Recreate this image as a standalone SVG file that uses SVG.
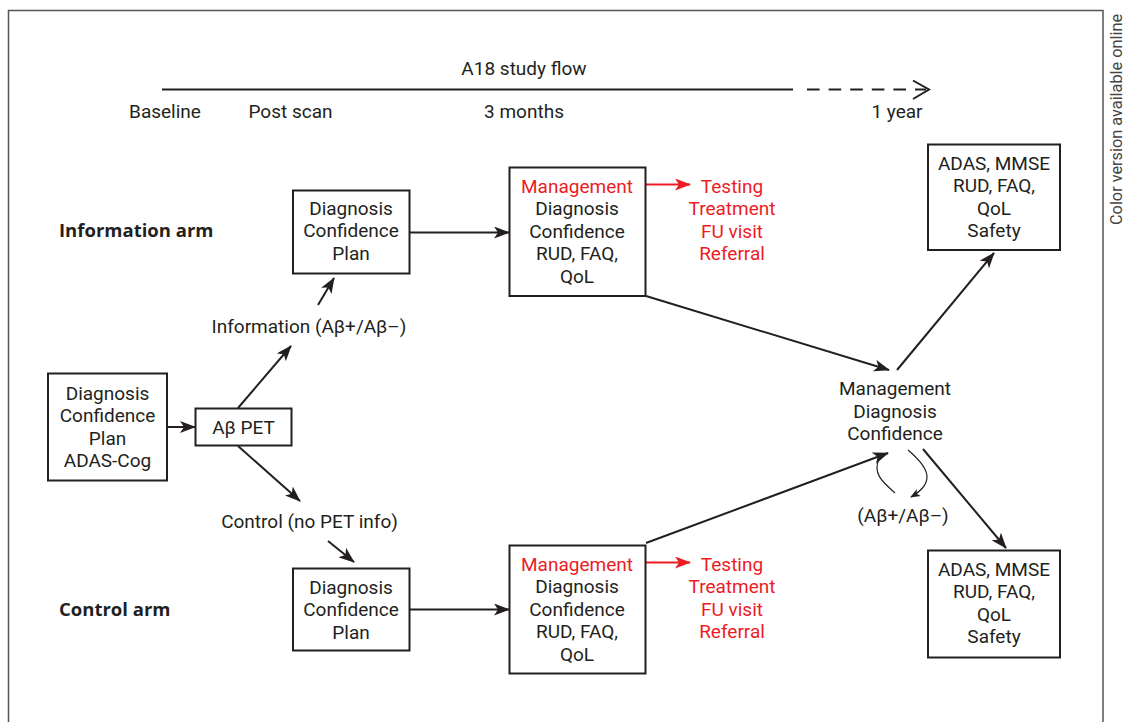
<svg xmlns="http://www.w3.org/2000/svg" width="1125" height="722" viewBox="0 0 1125 722">
<defs>
<style>
text{font-family:Roboto,"Open Sans","Liberation Sans",sans-serif;font-size:19px;fill:#231f20}
.c{text-anchor:middle}
.r{fill:#ed1c24}
.b{font-family:"Open Sans",Roboto,"Liberation Sans",sans-serif;font-weight:bold;font-size:18.5px}
.box{fill:#fff;stroke:#231f20;stroke-width:2}
.ln{stroke:#231f20;stroke-width:2;fill:none}
.thin{stroke:#231f20;stroke-width:1.2;fill:none}
.red{stroke:#ed1c24;stroke-width:2;fill:none}
</style>
<marker id="ah" viewBox="0 0 16 12" refX="15" refY="6" markerWidth="16" markerHeight="12" markerUnits="userSpaceOnUse" orient="auto">
<path d="M0,0 L16,6 L0,12 L4,6 Z" fill="#231f20"/>
</marker>
<marker id="ahr" viewBox="0 0 16 12" refX="15" refY="6" markerWidth="16" markerHeight="12" markerUnits="userSpaceOnUse" orient="auto">
<path d="M0,0 L16,6 L0,12 L4,6 Z" fill="#ed1c24"/>
</marker>
<marker id="ahs" viewBox="0 0 10 8" refX="9" refY="4" markerWidth="10" markerHeight="8" markerUnits="userSpaceOnUse" orient="auto">
<path d="M0,0 L10,4 L0,8 L2.5,4 Z" fill="#231f20"/>
</marker>
</defs>
<rect width="1125" height="722" fill="#fff"/>
<path d="M8.5,722 V10.5 H1103 V722" fill="none" stroke="#555" stroke-width="1.5"/>
<text transform="translate(1122,225) rotate(-90)" style="font-size:16.3px;fill:#444">Color version available online</text>

<g id="timeline">
<line x1="162" y1="89.5" x2="793" y2="89.5" class="ln"/>
<line x1="807" y1="89.5" x2="926" y2="89.5" class="ln" stroke-dasharray="12.6 9"/>
<polyline points="913,80.5 929,89.5 913,99" class="ln"/>
<text x="524" y="75" class="c">A18 study flow</text>
<text x="165" y="118" class="c">Baseline</text>
<text x="290.5" y="118" class="c">Post scan</text>
<text x="524" y="118" class="c">3 months</text>
<text x="897" y="118" class="c">1 year</text>
</g>

<g id="arm-labels">
<text x="59" y="237" class="b">Information arm</text>
<text x="59" y="616" class="b">Control arm</text>
</g>

<g id="connectors">
<line x1="167" y1="427" x2="195" y2="427" class="ln" marker-end="url(#ah)"/>
<line x1="238" y1="408" x2="291" y2="346" class="ln" marker-end="url(#ah)"/>
<line x1="238" y1="446" x2="300" y2="501" class="ln" marker-end="url(#ah)"/>
<line x1="318" y1="305" x2="334" y2="278" class="ln" marker-end="url(#ah)"/>
<line x1="328" y1="541" x2="354" y2="562" class="ln" marker-end="url(#ah)"/>
<line x1="410" y1="232.5" x2="509" y2="232.5" class="ln" marker-end="url(#ah)"/>
<line x1="410" y1="609.5" x2="509" y2="609.5" class="ln" marker-end="url(#ah)"/>
<line x1="645" y1="184.5" x2="690" y2="184.5" class="red" marker-end="url(#ahr)"/>
<line x1="645" y1="562.5" x2="690" y2="562.5" class="red" marker-end="url(#ahr)"/>
<line x1="646" y1="296" x2="889" y2="370" class="ln" marker-end="url(#ah)"/>
<line x1="646" y1="543" x2="888" y2="453" class="ln" marker-end="url(#ah)"/>
<line x1="897" y1="370" x2="994" y2="253" class="ln" marker-end="url(#ah)"/>
<line x1="923" y1="449" x2="1006" y2="548" class="ln" marker-end="url(#ah)"/>
<path d="M895,493 C884,483 872,474 879,459" class="thin"/>
<path d="M908,450 C928,467 937,482 911,497" class="thin" marker-end="url(#ahs)"/>
</g>

<g id="baseline-node">
<rect x="48" y="373.5" width="119" height="107" class="box"/>
<text x="107.5" y="399.5" class="c">Diagnosis</text>
<text x="107.5" y="422" class="c">Confidence</text>
<text x="107.5" y="444.5" class="c">Plan</text>
<text x="107.5" y="467" class="c">ADAS-Cog</text>
</g>

<g id="pet-node">
<rect x="195.5" y="408.5" width="96" height="37" class="box"/>
<text x="243.5" y="434" class="c">Aβ PET</text>
</g>

<g id="info-label">
<text x="309" y="332.5" class="c">Information (Aβ+/Aβ–)</text>
</g>
<g id="control-label">
<text x="309.5" y="528" class="c">Control (no PET info)</text>
</g>

<g id="info-post">
<rect x="293" y="190.5" width="116.5" height="83" class="box"/>
<text x="351" y="214.5" class="c">Diagnosis</text>
<text x="351" y="237" class="c">Confidence</text>
<text x="351" y="259.5" class="c">Plan</text>
</g>

<g id="control-post">
<rect x="293" y="568.5" width="116.5" height="82" class="box"/>
<text x="351" y="593.5" class="c">Diagnosis</text>
<text x="351" y="616" class="c">Confidence</text>
<text x="351" y="638.5" class="c">Plan</text>
</g>

<g id="info-3m">
<rect x="509.5" y="167.5" width="136" height="128.5" class="box"/>
<text x="577" y="192.5" class="c r">Management</text>
<text x="577" y="215" class="c">Diagnosis</text>
<text x="577" y="237.5" class="c">Confidence</text>
<text x="577" y="260" class="c">RUD, FAQ,</text>
<text x="577" y="282.5" class="c">QoL</text>
</g>

<g id="info-outcomes">
<text x="732" y="192.5" class="c r">Testing</text>
<text x="732" y="215" class="c r">Treatment</text>
<text x="732" y="237.5" class="c r">FU visit</text>
<text x="732" y="260" class="c r">Referral</text>
</g>

<g id="control-3m">
<rect x="509.5" y="545.5" width="136" height="128" class="box"/>
<text x="577" y="570.5" class="c r">Management</text>
<text x="577" y="593" class="c">Diagnosis</text>
<text x="577" y="615.5" class="c">Confidence</text>
<text x="577" y="638" class="c">RUD, FAQ,</text>
<text x="577" y="660.5" class="c">QoL</text>
</g>

<g id="control-outcomes">
<text x="732" y="570.5" class="c r">Testing</text>
<text x="732" y="593" class="c r">Treatment</text>
<text x="732" y="615.5" class="c r">FU visit</text>
<text x="732" y="638" class="c r">Referral</text>
</g>

<g id="center-node">
<text x="895" y="395" class="c">Management</text>
<text x="895" y="417.5" class="c">Diagnosis</text>
<text x="895" y="440" class="c">Confidence</text>
</g>

<g id="crossover-label">
<text x="903" y="521.5" class="c">(Aβ+/Aβ–)</text>
</g>

<g id="info-1y">
<rect x="928" y="144.5" width="132" height="105.5" class="box"/>
<text x="994" y="169.5" class="c">ADAS, MMSE</text>
<text x="994" y="192" class="c">RUD, FAQ,</text>
<text x="994" y="214.5" class="c">QoL</text>
<text x="994" y="237" class="c">Safety</text>
</g>

<g id="control-1y">
<rect x="928" y="550.5" width="132" height="107" class="box"/>
<text x="994" y="575.5" class="c">ADAS, MMSE</text>
<text x="994" y="598" class="c">RUD, FAQ,</text>
<text x="994" y="620.5" class="c">QoL</text>
<text x="994" y="643" class="c">Safety</text>
</g>
</svg>
